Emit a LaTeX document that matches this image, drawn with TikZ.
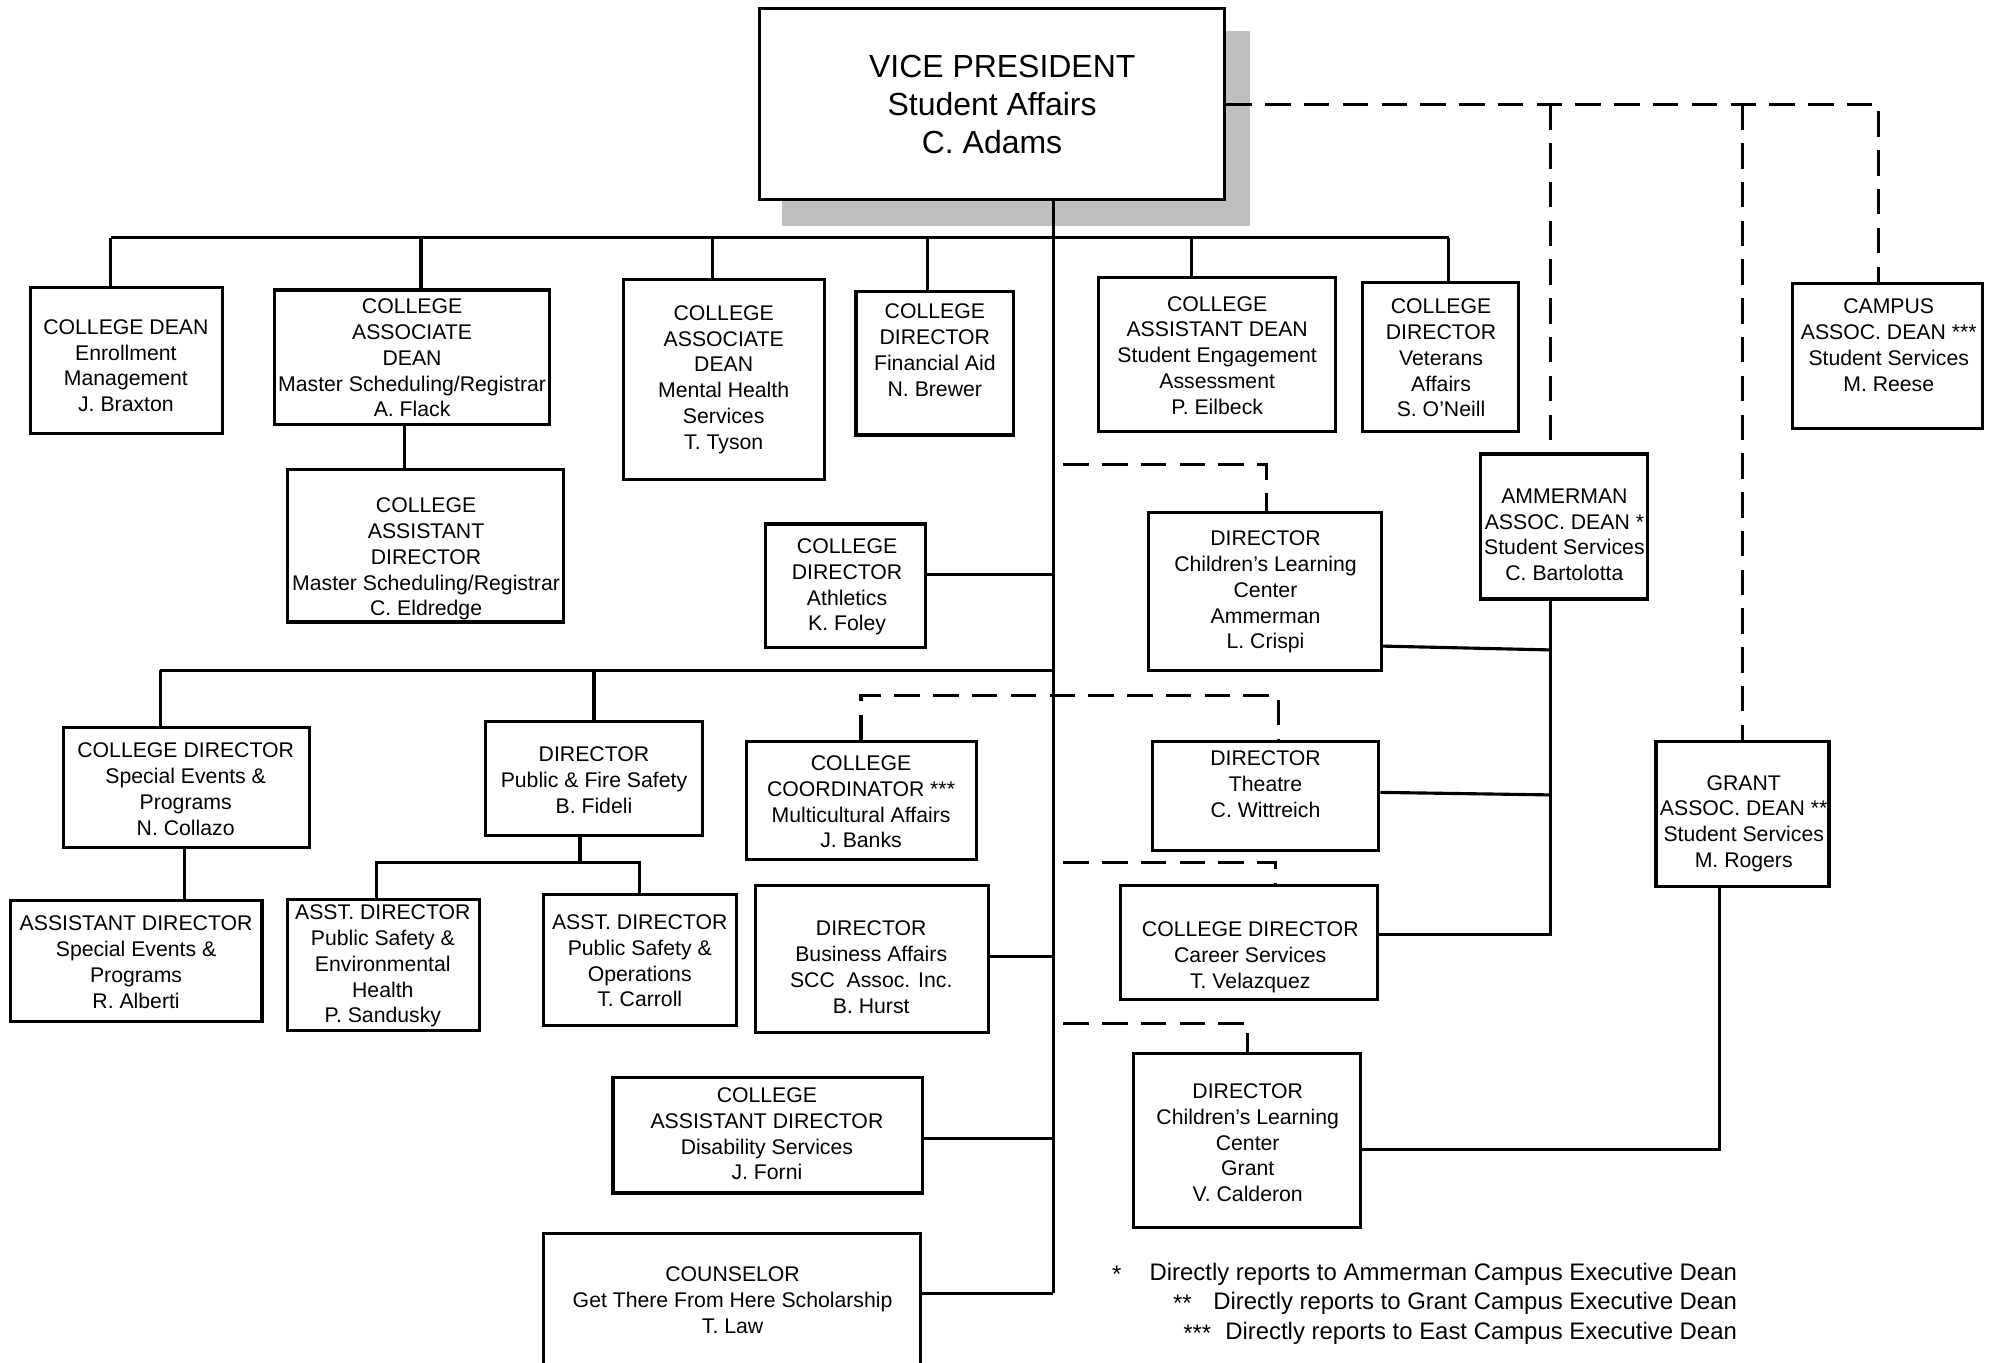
\documentclass[tikz,border=0pt]{standalone}
\usepackage{fontspec}
\setmainfont{Liberation Sans}
\usetikzlibrary{fit}
\newcommand\orgbox[8]{%
  \node[bx, fit={(#2,#3) (#4,#5)}] (#1) {};
  \node[txt] (#1t) at (#6,#7+1.5) {#8};
}
\begin{document}
\begin{tikzpicture}[x=0.02cm,y=-0.02cm,
  bx/.style={draw, line width=1.4pt, fill=white, inner sep=0pt},
  txt/.style={align=center, font=\fontsize{9.5}{11.55}\selectfont, inner sep=0pt},
  ln/.style={line width=1.4pt},
  dsh/.style={line width=1.4pt, dash pattern=on 0.4cm off 0.21cm},
  fn/.style={font=\fontsize{10.7}{13}\selectfont, inner sep=0pt}]
\useasboundingbox (0,0) rectangle (1567,1071);
% shadow + vice president
\fill[black!25] (615,24) rectangle (983,178);
\node[bx, fit={(597,7) (963,157)}] (vp) {};
\node[align=center, font=\fontsize{14.3}{17}\selectfont, inner sep=0pt] (vpt) at (780,82) {\hspace*{0.32cm}VICE PRESIDENT\\Student Affairs\\C. Adams};
% boxes
\orgbox{dean}{24}{226}{175}{341}{99}{286}{COLLEGE DEAN\\Enrollment\\Management\\J. Braxton}
\orgbox{adean}{216}{228}{432}{334}{324}{280}{COLLEGE\\ASSOCIATE\\DEAN\\Master Scheduling/Registrar\\A. Flack}
\orgbox{asstdir}{226}{369}{443}{489}{335}{438}{COLLEGE\\ASSISTANT\\DIRECTOR\\Master Scheduling/Registrar\\C. Eldredge}
\orgbox{mh}{490}{220}{648}{377}{569}{297}{COLLEGE\\ASSOCIATE\\DEAN\\Mental Health\\Services\\T. Tyson}
\orgbox{fa}{673}{229}{797}{342}{735}{274}{COLLEGE\\DIRECTOR\\Financial Aid\\N. Brewer}
\orgbox{asd}{864}{218}{1050}{339}{957}{278}{COLLEGE\\ASSISTANT DEAN\\Student Engagement\\Assessment\\P. Eilbeck}
\orgbox{vet}{1071}{222}{1194}{339}{1133}{280}{COLLEGE\\DIRECTOR\\Veterans\\Affairs\\S. O’Neill}
\orgbox{campus}{1409}{223}{1559}{337}{1485}{270}{CAMPUS\\ASSOC. DEAN ***\\Student Services\\M. Reese}
\orgbox{athl}{602}{412}{728}{509}{666}{460}{COLLEGE\\DIRECTOR\\Athletics\\K. Foley}
\orgbox{clca}{903}{403}{1086}{527}{995}{464}{DIRECTOR\\Children’s Learning\\Center\\Ammerman\\L. Crispi}
\orgbox{amm}{1164}{357}{1295}{471}{1230}{419}{AMMERMAN\\ASSOC. DEAN *\\Student Services\\C. Bartolotta}
\orgbox{collazo}{50}{572}{243}{666}{146}{619}{COLLEGE DIRECTOR\\Special Events \&\\Programs\\N. Collazo}
\orgbox{alberti}{8}{708}{206}{803}{107}{755}{ASSISTANT DIRECTOR\\Special Events \&\\Programs\\R. Alberti}
\orgbox{fideli}{382}{567}{552}{657}{467}{612}{DIRECTOR\\Public \& Fire Safety\\B. Fideli}
\orgbox{sandusky}{226}{707}{377}{810}{301}{758}{ASST. DIRECTOR\\Public Safety \&\\Environmental\\Health\\P. Sandusky}
\orgbox{carroll}{427}{703}{579}{806}{503}{754}{ASST. DIRECTOR\\Public Safety \&\\Operations\\T. Carroll}
\orgbox{banks}{587}{583}{768}{676}{677}{629}{COLLEGE\\COORDINATOR ***\\Multicultural Affairs\\J. Banks}
\orgbox{hurst}{594}{696}{777}{812}{685}{759}{DIRECTOR\\Business Affairs\\SCC\ \ Assoc. Inc.\\B. Hurst}
\orgbox{theatre}{906}{583}{1084}{669}{995}{615}{DIRECTOR\\Theatre\\C. Wittreich}
\orgbox{career}{881}{696}{1083}{786}{983}{751}{COLLEGE DIRECTOR\\Career Services\\T. Velazquez}
\orgbox{grant}{1302}{583}{1438}{697}{1371}{646}{GRANT\\ASSOC. DEAN **\\Student Services\\M. Rogers}
\orgbox{forni}{482}{847}{725}{938}{603}{890}{COLLEGE\\ASSISTANT DIRECTOR\\Disability Services\\J. Forni}
\orgbox{clcg}{891}{828}{1070}{965}{981}{897}{DIRECTOR\\Children’s Learning\\Center\\Grant\\V. Calderon}
\orgbox{counsel}{427}{970}{724}{1085}{576}{1021}{COUNSELOR\\Get There From Here Scholarship\\T. Law}
% main trunk and top bus
\coordinate (tk) at (828,0);
\draw[ln] (vp.south -| tk) -- (828,1017);
\draw[ln] (87,187) -- (1139,187);
\draw[ln] (87,187) -- (dean.north -| 87,0);
\draw[ln] (331,187) -- (adean.north -| 331,0);
\draw[ln] (560,187) -- (mh.north -| 560,0);
\draw[ln] (729,187) -- (fa.north -| 729,0);
\draw[ln] (937,187) -- (asd.north -| 937,0);
\draw[ln] (1139,187) -- (vet.north -| 1139,0);
\draw[ln] (adean.south -| 318,0) -- (asstdir.north -| 318,0);
% trunk branches
\draw[ln] (athl.east |- 0,452) -- (828,452);
\draw[ln] (hurst.east |- 0,752) -- (828,752);
\draw[ln] (forni.east |- 0,895) -- (828,895);
\draw[ln] (counsel.east |- 0,1017) -- (828,1017);
% second bus
\draw[ln] (126,527) -- (828,527);
\draw[ln] (126,527) -- (collazo.north -| 126,0);
\draw[ln] (467,527) -- (fideli.north -| 467,0);
\draw[ln] (collazo.south -| 145,0) -- (alberti.north -| 145,0);
\draw[ln] (fideli.south -| 456,0) -- (456,678);
\draw[ln] (sandusky.north -| 296,0) -- (296,678) -- (503,678) -- (carroll.north -| 503,0);
% Ammerman line
\draw[ln] (amm.south -| 1219,0) -- (1219,735) -- (career.east |- 0,735);
\draw[ln] (clca.east |- 0,508) -- (1219,511);
\draw[ln] (theatre.east |- 0,623) -- (1219,625);
% Grant line
\draw[ln] (grant.south -| 1352,0) -- (1352,904) -- (clcg.east |- 0,904);
% dashed lines
\draw[dsh] (vp.east |- 0,82) -- (1477,82) -- (campus.north -| 1477,0);
\draw[dsh] (1219,82) -- (amm.north -| 1219,0);
\draw[dsh] (1370,82) -- (grant.north -| 1370,0);
\draw[dsh] (836,365) -- (996,365) -- (clca.north -| 996,0);
\draw[dsh] (banks.north -| 677,0) -- (677,547) -- (1005,547) -- (theatre.north -| 1005,0);
\draw[dsh] (836,678) -- (1003,678) -- (career.north -| 1003,0);
\draw[dsh] (836,805) -- (981,805) -- (clcg.north -| 981,0);
% footnotes
\node[fn, anchor=west] (s1) at (874,1002) {*};
\node[fn, anchor=east] (f1) at (1366,1002) {Directly reports to Ammerman Campus Executive Dean};
\node[fn, anchor=west] (s2) at (922,1025) {**};
\node[fn, anchor=east] (f2) at (1366,1025) {Directly reports to Grant Campus Executive Dean};
\node[fn, anchor=west] (s3) at (930,1048) {***};
\node[fn, anchor=east] (f3) at (1366,1048) {Directly reports to East Campus Executive Dean};
\end{tikzpicture}
\end{document}
